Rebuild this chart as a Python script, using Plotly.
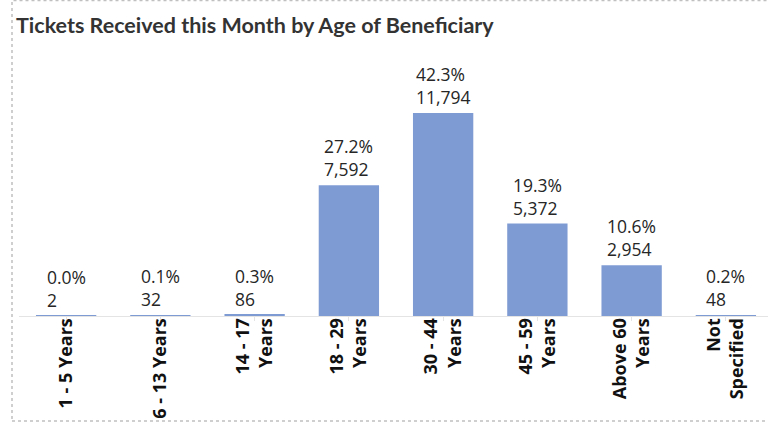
import plotly.graph_objects as go

categories = ["1 - 5 Years", "6 - 13 Years", "14 - 17<br>Years", "18 - 29<br>Years",
              "30 - 44<br>Years", "45 - 59<br>Years", "Above 60<br>Years", "Not<br>Specified"]
values = [2, 32, 86, 7592, 11794, 5372, 2954, 48]
percents = ["0.0%", "0.1%", "0.3%", "27.2%", "42.3%", "19.3%", "10.6%", "0.2%"]
value_labels = ["2", "32", "86", "7,592", "11,794", "5,372", "2,954", "48"]

BAR = "#7F9BD3"
TXT = "#262626"
W, H = 768, 425
L, R, T, B = 19, 0, 50, 109

x_idx = list(range(len(categories)))

fig = go.Figure(go.Bar(
    x=x_idx, y=values, marker=dict(color=BAR, line=dict(width=0)),
    width=0.64, hoverinfo="skip"))

for i, (v, p, lab) in enumerate(zip(values, percents, value_labels)):
    fig.add_annotation(x=i, y=v, xref="x", yref="y", text=f"{p}<br>{lab}",
                       showarrow=False, yanchor="bottom", xanchor="center",
                       align="left", yshift=2,
                       font=dict(family="Open Sans", size=17.5, color=TXT))

# dotted border
pw = W - L - R
ph = H - T - B
def px(xp):
    return (xp - L) / pw
def py(yp):
    return (H - B - yp) / ph
fig.add_shape(type="rect", xref="paper", yref="paper",
              x0=px(12), x1=px(W + 20), y0=py(421), y1=py(0.5),
              line=dict(color="#c0c0c0", width=1.5, dash="dot"),
              fillcolor="rgba(0,0,0,0)", layer="below")

fig.update_layout(
    width=W, height=H,
    margin=dict(l=L, r=R, t=T, b=B, autoexpand=False),
    paper_bgcolor="white", plot_bgcolor="white",
    showlegend=False,
    title=dict(text="<b>Tickets Received this Month by Age of Beneficiary</b>",
               x=16 / W, xanchor="left", xref="container",
               y=1 - 25 / H, yanchor="middle", yref="container",
               automargin=False,
               font=dict(family="Lato", size=21.5, color="#333333")),
    xaxis=dict(
        range=[-0.5, -0.5 + pw / 94.25], automargin=False,
        tickmode="array", tickvals=x_idx,
        ticktext=[f"<b>{c}</b>" for c in categories],
        tickangle=-90, showline=True, linecolor="#e4e4e4", linewidth=1,
        ticks="outside", ticklen=4, tickcolor="#e4e4e4", tickson="boundaries",
        ticklabelstandoff=-10,
        tickfont=dict(family="Open Sans", size=18, color="#111111"),
        showgrid=False, zeroline=False, fixedrange=True),
    yaxis=dict(range=[0, ph / 0.01721], visible=False, showgrid=False,
               automargin=False, zeroline=False, fixedrange=True),
)

fig.write_html("out.html", config={"displayModeBar": False},
               post_script="document.body.style.margin='0';document.body.style.overflow='hidden';")
